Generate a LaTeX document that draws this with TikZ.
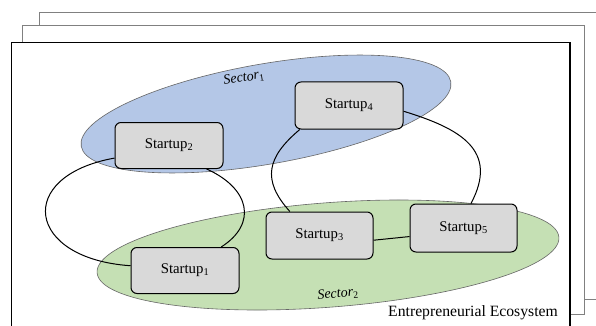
\documentclass[tikz,border=0pt]{standalone}
\usepackage{fontspec}
\setmainfont{Liberation Serif}
\definecolor{secblue}{HTML}{B4C7E7}
\definecolor{secgreen}{HTML}{C5E0B4}
\definecolor{boxgray}{HTML}{D9D9D9}
\definecolor{framegray}{HTML}{808080}
\pgfdeclarelayer{bglayer}
\pgfdeclarelayer{linklayer}
\pgfsetlayers{bglayer,linklayer,main}
\tikzset{
  startupbox/.style={draw=black, line width=1pt, fill=boxgray, rounded corners=6pt,
    minimum width=108pt, minimum height=46pt, inner sep=0pt,
    font=\fontsize{14.8}{17}\selectfont},
  sectorshape/.style={draw=black!60, line width=0.6pt},
  sectorlabel/.style={font=\fontsize{14}{16}\selectfont, inner sep=0pt},
  link/.style={draw=black, line width=1pt},
  backframe/.style={draw=framegray, line width=0.8pt, fill=white},
  frontframe/.style={draw=black, line width=1.2pt, fill=white},
}
\begin{document}
\begin{tikzpicture}[x=1pt,y=1pt]
\useasboundingbox (0,0) rectangle (596,-326);
\begin{pgfonlayer}{bglayer}
  \begin{scope}
    \clip (0,0) rectangle (596,-326);
    \path[backframe] (39,-12.7) rectangle (620,-299);
    \path[backframe] (22.7,-25.3) rectangle (584,-314.3);
    \path[frontframe] (11.7,-42.3) rectangle (570,-345);
  \end{scope}
  \path[sectorshape, fill=secblue] (266,-114) ellipse [x radius=187.6, y radius=50.1, rotate=9.9];
  \path[sectorshape, fill=secgreen] (328,-255) ellipse [x radius=231.6, y radius=52.2, rotate=4.4];
\end{pgfonlayer}
\node[sectorlabel, rotate=9] (sec1) at (244,-78) {\itshape Sector\textsubscript{\upshape 1}};
\node[sectorlabel, rotate=5] (sec2) at (338,-294) {\itshape Sector\textsubscript{\upshape 2}};
% startups
\node[startupbox] (s1) at (185,-270.5) {Startup\textsubscript{1}};
\node[startupbox] (s2) at (169,-145.5) {Startup\textsubscript{2}};
\node[startupbox, minimum width=107pt, minimum height=47pt] (s3) at (319.5,-235.5) {Startup\textsubscript{3}};
\node[startupbox, minimum height=47pt] (s4) at (349,-105.5) {Startup\textsubscript{4}};
\node[startupbox, minimum width=107pt, minimum height=48pt] (s5) at (463.5,-228) {Startup\textsubscript{5}};
\node[anchor=base east, inner sep=0pt, font=\fontsize{15.7}{18}\selectfont] (eco) at (558,-316) {Entrepreneurial Ecosystem};
% connectors
\begin{pgfonlayer}{linklayer}
  \path[link] (s2.193) .. controls +(-100,-18) and +(-104.6,7.1) .. (s1.175);
  \path[link] (s2.328) .. controls +(43.3,-19.4) and +(36.6,23.3) .. (s1.33);
  \path[link] (s4.206) .. controls +(-32.7,-27.5) and +(-28.6,31.7) .. (s3.141);
  \path[link] (s4.354) .. controls +(57.4,-17.5) and +(28.1,53) .. (s5.73);
  \path[link] (s3.355) -- (s5.189);
\end{pgfonlayer}
\end{tikzpicture}
\end{document}
